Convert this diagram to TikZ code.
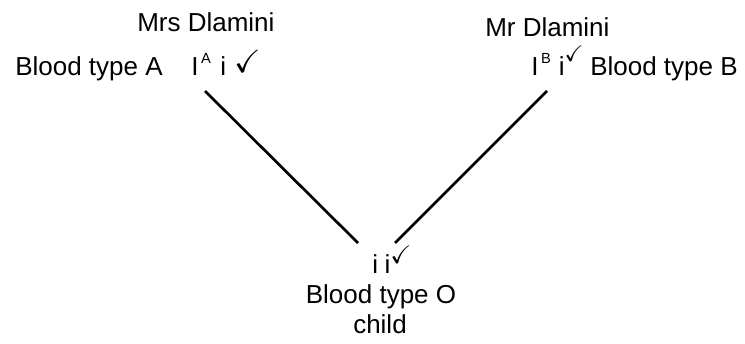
\documentclass[tikz,border=0pt]{standalone}
\usepackage{fontspec}
\setmainfont{Liberation Sans}
\usepackage{amssymb}
\usepackage{tikz}
\usetikzlibrary{positioning}

\newcommand{\allele}[2]{#1\hspace{2pt}\raisebox{9pt}{\fontsize{11}{12}\selectfont #2}}
\newcommand{\tickmark}[2]{\raisebox{#2}{\fontsize{#1}{#1}\selectfont$\checkmark$}}

\begin{document}
\begin{tikzpicture}[x=0.75pt,y=-0.75pt]
	\useasboundingbox (0,0) rectangle (745,343);

	\begin{scope}[every node/.style={font=\fontsize{19.5}{23}\selectfont,inner sep=0pt,anchor=base west}]
		\node (mname) at (137,31) {Mrs Dlamini};
		\node (mgeno) at (191,75) {\allele{I}{A}\hspace{7pt}i\hspace{6pt}\tickmark{24}{2pt}};
		\node (mtype) at (15,75) {Blood type A};

		\node (fname) at (485,36) {Mr Dlamini};
		\node (fgeno) at (531,75) {\allele{I}{B}\hspace{6pt}i\tickmark{17}{10pt}};
		\node (ftype) at (590,75) {Blood type B};

		\node (cgeno) at (372,273) {i\hspace{5pt}i\tickmark{19}{7pt}};
		\node[anchor=base] (ctype) at (381,303) {Blood type O};
		\node[anchor=base] (child) at (380,333) {child};
	\end{scope}

	\coordinate (mlink) at (205,91);
	\coordinate (flink) at (547,91);
	\coordinate (clinkl) at (358,243);
	\coordinate (clinkr) at (395,243);

	\begin{scope}[every edge/.style={draw=black,line width=2pt}]
		\path [-] (mlink) edge (clinkl);
		\path [-] (flink) edge (clinkr);
	\end{scope}
\end{tikzpicture}
\end{document}
